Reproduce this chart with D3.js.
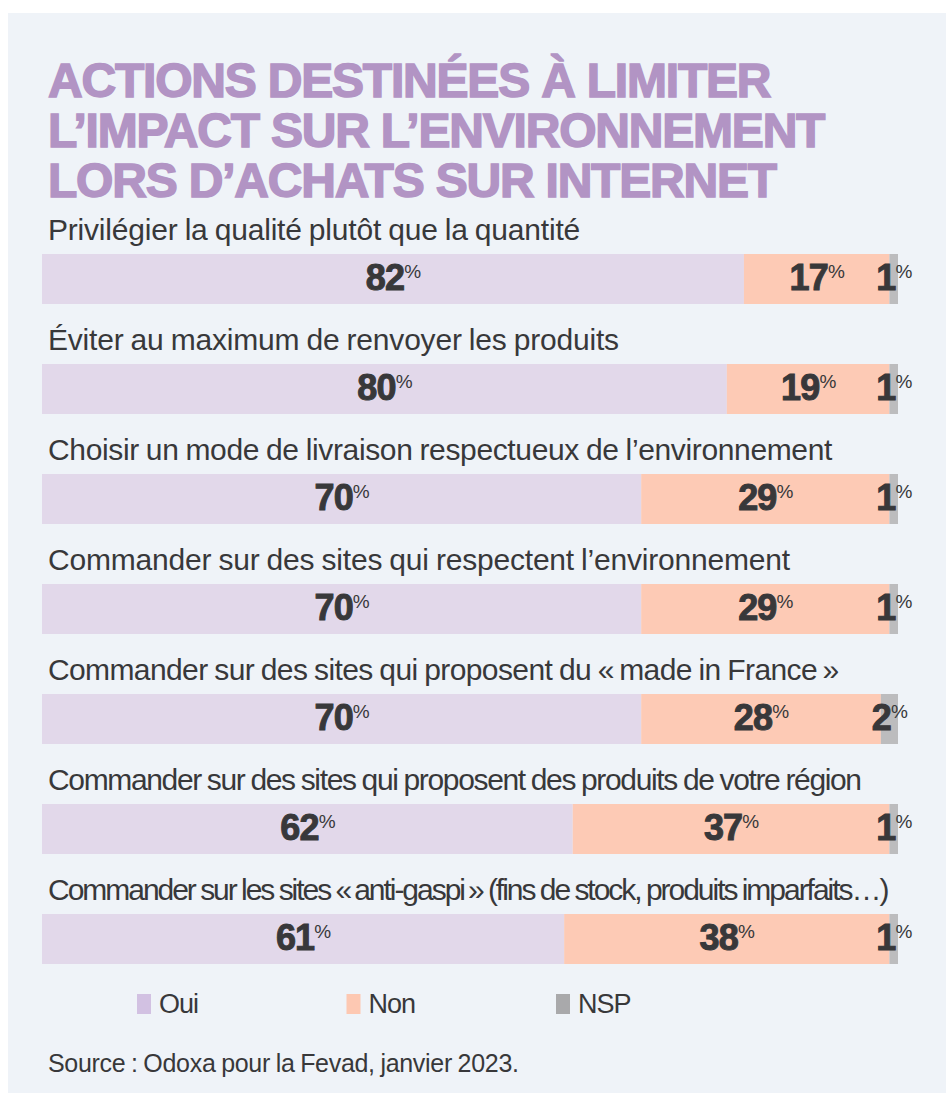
<!DOCTYPE html>
<html>
<head>
<meta charset="utf-8">
<script src="https://cdn.jsdelivr.net/npm/d3@7"></script>
<style>
  body { margin: 0; background: #ffffff; }
  svg { display: block; }
</style>
</head>
<body>
<div id="chart"></div>
<script>
// data
var titleLines = ["ACTIONS DESTINÉES À LIMITER", "L’IMPACT SUR L’ENVIRONNEMENT", "LORS D’ACHATS SUR INTERNET"];
var categories = [
  "Privilégier la qualité plutôt que la quantité",
  "Éviter au maximum de renvoyer les produits",
  "Choisir un mode de livraison respectueux de l’environnement",
  "Commander sur des sites qui respectent l’environnement",
  "Commander sur des sites qui proposent du «\u202Fmade in France\u202F»",
  "Commander sur des sites qui proposent des produits de votre région",
  "Commander sur les sites «\u202Fanti-gaspi\u202F» (fins de stock, produits imparfaits…)"
];
var oui = [82, 80, 70, 70, 70, 62, 61];
var non = [17, 19, 29, 29, 28, 37, 38];
var nsp = [1, 1, 1, 1, 2, 1, 1];
var seriesNames = ["Oui", "Non", "NSP"];
var sourceText = "Source : Odoxa pour la Fevad, janvier 2023.";

var width = 946, height = 1093;
var barColors = ["#e2d8ea", "#fdcab5", "#bcbcbe"];
var legendColors = ["#d2c1e2", "#fdc8b2", "#a9a9ab"];
var textCol = "#38383a";
var font = "'Liberation Sans', Arial, sans-serif";

var rows = categories.map(function(c, i) {
  return {cat: c, Oui: oui[i], Non: non[i], NSP: nsp[i]};
});
var stacked = d3.stack().keys(seriesNames)(rows);

var svg = d3.select("#chart").append("svg")
  .attr("width", width)
  .attr("height", height);

// panel
svg.append("rect")
  .attr("x", 8).attr("y", 13)
  .attr("width", width - 8).attr("height", height - 13)
  .attr("fill", "#eff3f8");

// title
svg.append("g").selectAll("text")
  .data(titleLines)
  .enter().append("text")
  .attr("x", 48)
  .attr("y", (d, i) => 97 + i * 50)
  .text(d => d)
  .style("font-family", font)
  .style("font-weight", "bold")
  .style("font-size", "48px")
  .style("letter-spacing", "-1.2px")
  .attr("fill", "#b294c4")
  .attr("stroke", "#b294c4")
  .attr("stroke-width", 1.5);

var x = d3.scaleLinear().domain([0, 100]).range([42, 898]);
var y = d3.scaleBand()
  .domain(categories)
  .range([254, 964])
  .paddingInner(60 / 110)
  .paddingOuter(0);

// category labels
var labels = svg.append("g").selectAll("text")
  .data(categories)
  .enter().append("text")
  .attr("x", 48)
  .attr("y", d => y(d) - 14)
  .text(d => d)
  .style("font-family", font)
  .style("font-size", "30px")
  .style("letter-spacing", "-0.2px")
  .style("word-spacing", "-1px")
  .attr("fill", textCol);

// long labels get tighter tracking, as in the print version
var softW = 780;
labels.each(function(d) {
  var w = this.getComputedTextLength();
  if (w > softW) {
    var target = softW + (w - softW) * 0.3;
    var ls = -0.2 + (target - w) / d.length;
    d3.select(this).style("letter-spacing", ls + "px");
  }
});

// bars
var layers = svg.append("g").selectAll("g")
  .data(stacked)
  .enter().append("g")
  .attr("fill", (d, i) => barColors[i]);

layers.selectAll("rect")
  .data(d => d)
  .enter().append("rect")
  .attr("x", d => x(d[0]))
  .attr("y", d => y(d.data.cat))
  .attr("width", d => x(d[1]) - x(d[0]))
  .attr("height", y.bandwidth());

// value labels
var vals = svg.append("g").selectAll("g")
  .data(stacked)
  .enter().append("g");

var vt = vals.selectAll("text")
  .data(d => d.map(v => ({v: v, key: d.key})))
  .enter().append("text")
  .attr("x", d => (x(d.v[0]) + x(d.v[1])) / 2)
  .attr("y", d => y(d.v.data.cat) + y.bandwidth() / 2 + 11)
  .attr("text-anchor", "middle")
  .attr("fill", textCol)
  .style("font-family", font);

vt.append("tspan")
  .text(d => d.v.data[d.key])
  .style("font-size", "36px")
  .style("font-weight", "bold")
  .style("letter-spacing", "-0.8px")
  .attr("stroke", textCol)
  .attr("stroke-width", 1);

vt.append("tspan")
  .text("%")
  .attr("dy", -12)
  .style("font-size", "19px")
  .style("letter-spacing", "-1px");

// legend
var lx = d3.scalePoint().domain(seriesNames).range([137, 556]);
var leg = svg.append("g").selectAll("g")
  .data(seriesNames)
  .enter().append("g")
  .attr("transform", d => "translate(" + lx(d) + ",994)");

leg.append("rect")
  .attr("width", 14)
  .attr("height", 20)
  .attr("fill", (d, i) => legendColors[i]);

leg.append("text")
  .attr("x", 22)
  .attr("y", 19)
  .text(d => d)
  .style("font-family", font)
  .style("font-size", "27px")
  .style("letter-spacing", "-1px")
  .attr("fill", textCol);

// source
svg.append("text")
  .attr("x", 48)
  .attr("y", 1072)
  .text(sourceText)
  .style("font-family", font)
  .style("font-size", "25px")
  .style("letter-spacing", "-0.3px")
  .style("word-spacing", "-1px")
  .attr("fill", textCol);
</script>
</body>
</html>
